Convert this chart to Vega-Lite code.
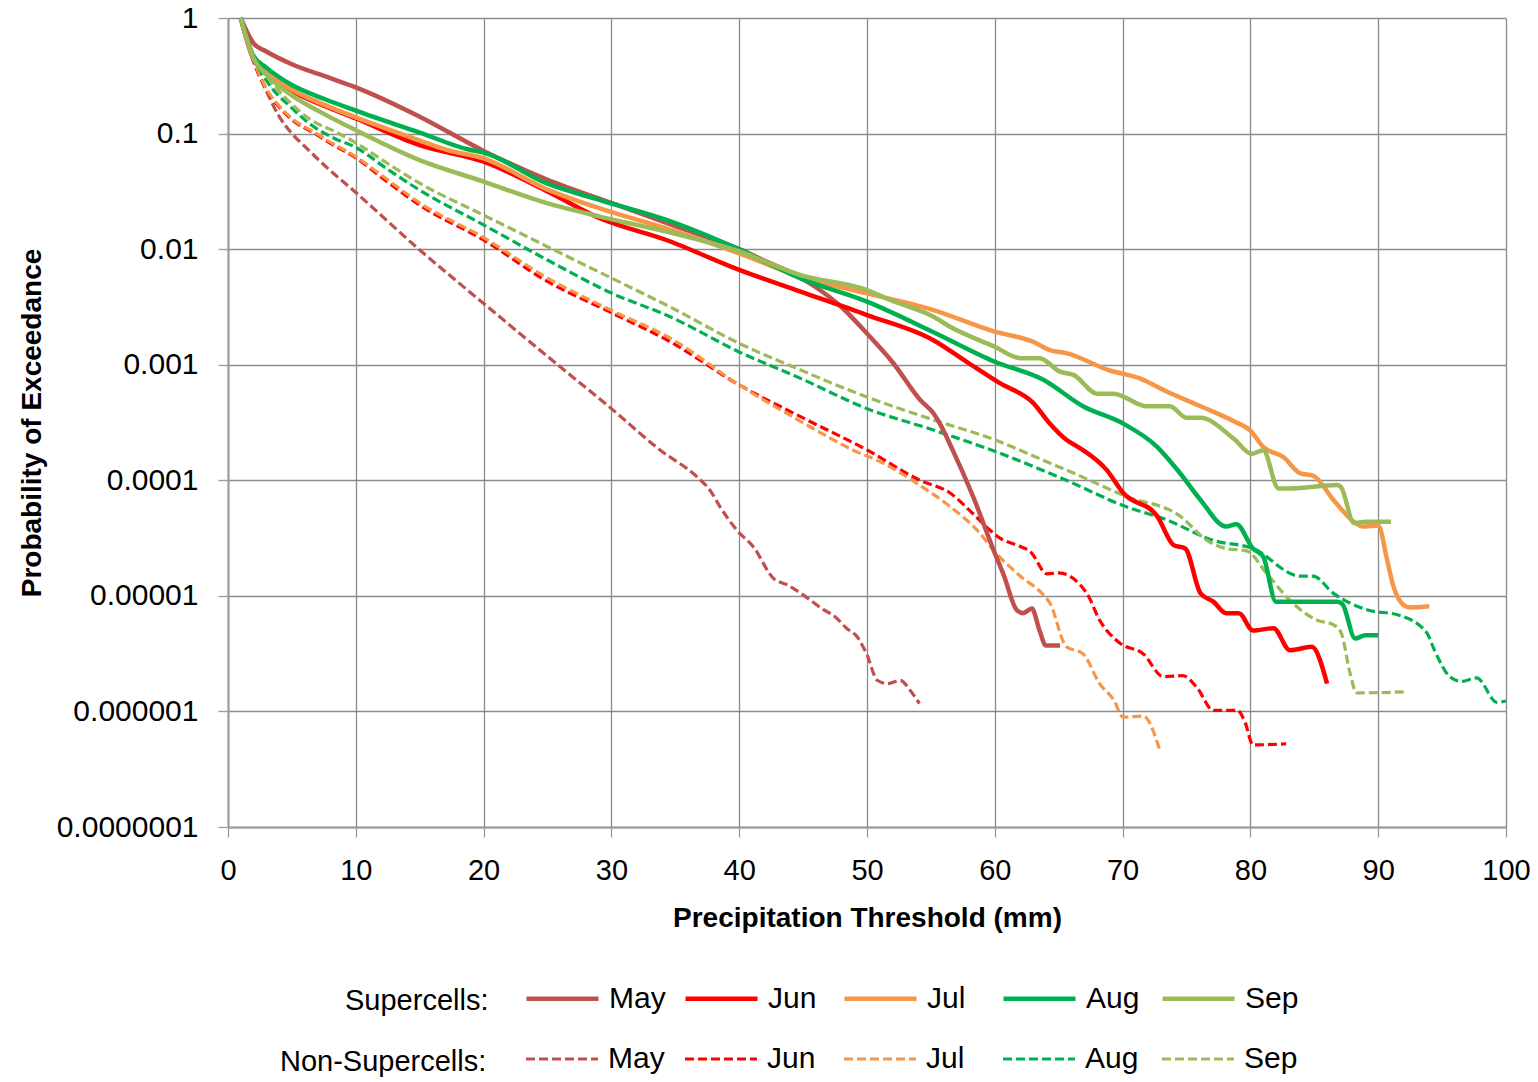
{
  "$schema": "https://vega.github.io/schema/vega-lite/v6.json",
  "width": 1278,
  "height": 809,
  "autosize": {"type": "none"},
  "padding": {"left": 228, "top": 18, "right": 32, "bottom": 255},
  "background": "white",
  "config": {"view": {"stroke": null}},
  "datasets": {
    "super": [
      {"m": "May", "x": 1, "p": 1}, {"m": "May", "x": 2, "p": 0.603}, {"m": "May", "x": 3, "p": 0.513}, {"m": "May", "x": 5, "p": 0.398}, {"m": "May", "x": 8, "p": 0.302}, {"m": "May", "x": 10, "p": 0.251}, {"m": "May", "x": 15, "p": 0.14}, {"m": "May", "x": 20, "p": 0.0708}, {"m": "May", "x": 25, "p": 0.0398}, {"m": "May", "x": 30, "p": 0.0251}, {"m": "May", "x": 35, "p": 0.0158}, {"m": "May", "x": 40, "p": 0.01}, {"m": "May", "x": 42, "p": 0.00794}, {"m": "May", "x": 44, "p": 0.00631}, {"m": "May", "x": 46, "p": 0.00468}, {"m": "May", "x": 48, "p": 0.00316}, {"m": "May", "x": 50, "p": 0.00186}, {"m": "May", "x": 52, "p": 0.00105}, {"m": "May", "x": 54.2, "p": 0.00049}, {"m": "May", "x": 55.2, "p": 0.00038}, {"m": "May", "x": 55.7, "p": 0.000309}, {"m": "May", "x": 56.75, "p": 0.000178}, {"m": "May", "x": 58.3, "p": 7.24e-5}, {"m": "May", "x": 60, "p": 2.34e-5}, {"m": "May", "x": 60.7, "p": 1.51e-5}, {"m": "May", "x": 61.7, "p": 7.59e-6}, {"m": "May", "x": 62.2, "p": 7.08e-6}, {"m": "May", "x": 62.9, "p": 7.76e-6}, {"m": "May", "x": 63.5, "p": 5.01e-6}, {"m": "May", "x": 64.0, "p": 3.72e-6}, {"m": "May", "x": 65.1, "p": 3.72e-6},
      {"m": "Jun", "x": 1, "p": 1}, {"m": "Jun", "x": 2, "p": 0.437}, {"m": "Jun", "x": 3, "p": 0.339}, {"m": "Jun", "x": 5, "p": 0.234}, {"m": "Jun", "x": 7.5, "p": 0.174}, {"m": "Jun", "x": 10, "p": 0.135}, {"m": "Jun", "x": 15, "p": 0.0794}, {"m": "Jun", "x": 20, "p": 0.0571}, {"m": "Jun", "x": 25, "p": 0.0316}, {"m": "Jun", "x": 29.1, "p": 0.0185}, {"m": "Jun", "x": 34.3, "p": 0.012}, {"m": "Jun", "x": 40, "p": 0.00661}, {"m": "Jun", "x": 44.8, "p": 0.00429}, {"m": "Jun", "x": 50, "p": 0.00269}, {"m": "Jun", "x": 55.2, "p": 0.00163}, {"m": "Jun", "x": 57.8, "p": 0.00106}, {"m": "Jun", "x": 60.4, "p": 0.000692}, {"m": "Jun", "x": 63, "p": 0.000468}, {"m": "Jun", "x": 64.3, "p": 0.00031}, {"m": "Jun", "x": 65.6, "p": 0.000224}, {"m": "Jun", "x": 66.5, "p": 0.000195}, {"m": "Jun", "x": 68.75, "p": 0.000123}, {"m": "Jun", "x": 70.05, "p": 7.76e-5}, {"m": "Jun", "x": 72.7, "p": 4.9e-5}, {"m": "Jun", "x": 74, "p": 2.75e-5}, {"m": "Jun", "x": 74.9, "p": 2.57e-5}, {"m": "Jun", "x": 76.1, "p": 1.05e-5}, {"m": "Jun", "x": 77.1, "p": 8.91e-6}, {"m": "Jun", "x": 78.1, "p": 7.08e-6}, {"m": "Jun", "x": 79.1, "p": 7.08e-6}, {"m": "Jun", "x": 80.2, "p": 5.01e-6}, {"m": "Jun", "x": 81.8, "p": 5.25e-6}, {"m": "Jun", "x": 83.1, "p": 3.39e-6}, {"m": "Jun", "x": 84.8, "p": 3.63e-6}, {"m": "Jun", "x": 86, "p": 1.74e-6},
      {"m": "Jul", "x": 1, "p": 1}, {"m": "Jul", "x": 2, "p": 0.447}, {"m": "Jul", "x": 3, "p": 0.347}, {"m": "Jul", "x": 5, "p": 0.24}, {"m": "Jul", "x": 7.5, "p": 0.178}, {"m": "Jul", "x": 10, "p": 0.138}, {"m": "Jul", "x": 15, "p": 0.0871}, {"m": "Jul", "x": 17.1, "p": 0.0724}, {"m": "Jul", "x": 20, "p": 0.0611}, {"m": "Jul", "x": 24.9, "p": 0.0331}, {"m": "Jul", "x": 29.1, "p": 0.0225}, {"m": "Jul", "x": 34.3, "p": 0.0151}, {"m": "Jul", "x": 40, "p": 0.0092}, {"m": "Jul", "x": 44.8, "p": 0.00578}, {"m": "Jul", "x": 50, "p": 0.00414}, {"m": "Jul", "x": 55.2, "p": 0.00297}, {"m": "Jul", "x": 60, "p": 0.00193}, {"m": "Jul", "x": 63, "p": 0.00158}, {"m": "Jul", "x": 64.3, "p": 0.00134}, {"m": "Jul", "x": 65.6, "p": 0.00126}, {"m": "Jul", "x": 69, "p": 0.000891}, {"m": "Jul", "x": 71.4, "p": 0.000759}, {"m": "Jul", "x": 73.4, "p": 0.000589}, {"m": "Jul", "x": 76.1, "p": 0.000437}, {"m": "Jul", "x": 78.7, "p": 0.000324}, {"m": "Jul", "x": 80, "p": 0.000269}, {"m": "Jul", "x": 81, "p": 0.000195}, {"m": "Jul", "x": 82.6, "p": 0.000158}, {"m": "Jul", "x": 83.9, "p": 0.000115}, {"m": "Jul", "x": 84.9, "p": 0.00011}, {"m": "Jul", "x": 86.5, "p": 6.76e-5}, {"m": "Jul", "x": 88.1, "p": 4.37e-5}, {"m": "Jul", "x": 88.8, "p": 3.98e-5}, {"m": "Jul", "x": 90, "p": 4.07e-5}, {"m": "Jul", "x": 90.7, "p": 2.04e-5}, {"m": "Jul", "x": 91.2, "p": 1.2e-5}, {"m": "Jul", "x": 92, "p": 8.32e-6}, {"m": "Jul", "x": 92.5, "p": 7.94e-6}, {"m": "Jul", "x": 94, "p": 8.13e-6},
      {"m": "Aug", "x": 1, "p": 1}, {"m": "Aug", "x": 2, "p": 0.468}, {"m": "Aug", "x": 3, "p": 0.372}, {"m": "Aug", "x": 5, "p": 0.263}, {"m": "Aug", "x": 7.5, "p": 0.2}, {"m": "Aug", "x": 10, "p": 0.158}, {"m": "Aug", "x": 15, "p": 0.102}, {"m": "Aug", "x": 18.9, "p": 0.0724}, {"m": "Aug", "x": 20, "p": 0.0684}, {"m": "Aug", "x": 24.9, "p": 0.0372}, {"m": "Aug", "x": 29.1, "p": 0.0266}, {"m": "Aug", "x": 34.3, "p": 0.0179}, {"m": "Aug", "x": 40, "p": 0.00995}, {"m": "Aug", "x": 44.8, "p": 0.00558}, {"m": "Aug", "x": 50, "p": 0.00351}, {"m": "Aug", "x": 55.2, "p": 0.00191}, {"m": "Aug", "x": 60, "p": 0.00106}, {"m": "Aug", "x": 63.8, "p": 0.000741}, {"m": "Aug", "x": 66.9, "p": 0.000437}, {"m": "Aug", "x": 70.05, "p": 0.000309}, {"m": "Aug", "x": 72.7, "p": 0.000195}, {"m": "Aug", "x": 74.5, "p": 0.000115}, {"m": "Aug", "x": 76.1, "p": 6.76e-5}, {"m": "Aug", "x": 78.1, "p": 3.98e-5}, {"m": "Aug", "x": 78.9, "p": 4.17e-5}, {"m": "Aug", "x": 80.2, "p": 2.57e-5}, {"m": "Aug", "x": 81, "p": 2.19e-5}, {"m": "Aug", "x": 82, "p": 8.91e-6}, {"m": "Aug", "x": 82.7, "p": 8.91e-6}, {"m": "Aug", "x": 86.8, "p": 8.91e-6}, {"m": "Aug", "x": 87.2, "p": 8.51e-6}, {"m": "Aug", "x": 88.2, "p": 4.27e-6}, {"m": "Aug", "x": 89, "p": 4.57e-6}, {"m": "Aug", "x": 90, "p": 4.57e-6},
      {"m": "Sep", "x": 1, "p": 1}, {"m": "Sep", "x": 2, "p": 0.447}, {"m": "Sep", "x": 3, "p": 0.324}, {"m": "Sep", "x": 5, "p": 0.214}, {"m": "Sep", "x": 7.5, "p": 0.148}, {"m": "Sep", "x": 10, "p": 0.107}, {"m": "Sep", "x": 15, "p": 0.0589}, {"m": "Sep", "x": 20, "p": 0.0384}, {"m": "Sep", "x": 24.9, "p": 0.0251}, {"m": "Sep", "x": 29.1, "p": 0.0191}, {"m": "Sep", "x": 34.3, "p": 0.0142}, {"m": "Sep", "x": 40, "p": 0.00955}, {"m": "Sep", "x": 44.8, "p": 0.00597}, {"m": "Sep", "x": 50, "p": 0.00443}, {"m": "Sep", "x": 51.8, "p": 0.00363}, {"m": "Sep", "x": 55.2, "p": 0.0026}, {"m": "Sep", "x": 56.5, "p": 0.00213}, {"m": "Sep", "x": 60, "p": 0.00143}, {"m": "Sep", "x": 62, "p": 0.00114}, {"m": "Sep", "x": 63.5, "p": 0.00114}, {"m": "Sep", "x": 65.1, "p": 0.000871}, {"m": "Sep", "x": 66.2, "p": 0.000813}, {"m": "Sep", "x": 68, "p": 0.000562}, {"m": "Sep", "x": 69.3, "p": 0.000562}, {"m": "Sep", "x": 71.9, "p": 0.000437}, {"m": "Sep", "x": 73.7, "p": 0.000437}, {"m": "Sep", "x": 75, "p": 0.000347}, {"m": "Sep", "x": 76.1, "p": 0.000347}, {"m": "Sep", "x": 78.7, "p": 0.000229}, {"m": "Sep", "x": 80.1, "p": 0.00017}, {"m": "Sep", "x": 81, "p": 0.000182}, {"m": "Sep", "x": 82.2, "p": 8.51e-5}, {"m": "Sep", "x": 83.1, "p": 8.51e-5}, {"m": "Sep", "x": 86.8, "p": 9.12e-5}, {"m": "Sep", "x": 87.1, "p": 8.71e-5}, {"m": "Sep", "x": 88.1, "p": 4.27e-5}, {"m": "Sep", "x": 89, "p": 4.37e-5}, {"m": "Sep", "x": 91, "p": 4.37e-5}
    ],
    "non": [
      {"m": "May", "x": 1, "p": 1}, {"m": "May", "x": 2, "p": 0.417}, {"m": "May", "x": 3, "p": 0.234}, {"m": "May", "x": 4, "p": 0.141}, {"m": "May", "x": 5, "p": 0.1}, {"m": "May", "x": 6, "p": 0.0776}, {"m": "May", "x": 7.5, "p": 0.0537}, {"m": "May", "x": 10, "p": 0.0309}, {"m": "May", "x": 15, "p": 0.00984}, {"m": "May", "x": 20, "p": 0.00339}, {"m": "May", "x": 25.7, "p": 0.00102}, {"m": "May", "x": 30, "p": 0.000417}, {"m": "May", "x": 33.8, "p": 0.000183}, {"m": "May", "x": 36.7, "p": 0.000107}, {"m": "May", "x": 37.7, "p": 8.24e-5}, {"m": "May", "x": 38.5, "p": 5.9e-5}, {"m": "May", "x": 39.8, "p": 3.72e-5}, {"m": "May", "x": 41.1, "p": 2.66e-5}, {"m": "May", "x": 42.7, "p": 1.41e-5}, {"m": "May", "x": 43.8, "p": 1.24e-5}, {"m": "May", "x": 45, "p": 1.02e-5}, {"m": "May", "x": 46.6, "p": 7.59e-6}, {"m": "May", "x": 47.5, "p": 6.61e-6}, {"m": "May", "x": 48.4, "p": 5.25e-6}, {"m": "May", "x": 49.2, "p": 4.47e-6}, {"m": "May", "x": 50, "p": 3.09e-6}, {"m": "May", "x": 50.8, "p": 1.86e-6}, {"m": "May", "x": 51.6, "p": 1.74e-6}, {"m": "May", "x": 52.6, "p": 1.86e-6}, {"m": "May", "x": 53.4, "p": 1.51e-6}, {"m": "May", "x": 54.1, "p": 1.17e-6},
      {"m": "Jun", "x": 1, "p": 1}, {"m": "Jun", "x": 2, "p": 0.437}, {"m": "Jun", "x": 3, "p": 0.24}, {"m": "Jun", "x": 4, "p": 0.17}, {"m": "Jun", "x": 5, "p": 0.132}, {"m": "Jun", "x": 6.8, "p": 0.1}, {"m": "Jun", "x": 7.8, "p": 0.0851}, {"m": "Jun", "x": 10, "p": 0.0617}, {"m": "Jun", "x": 12.5, "p": 0.038}, {"m": "Jun", "x": 15, "p": 0.024}, {"m": "Jun", "x": 20, "p": 0.012}, {"m": "Jun", "x": 25, "p": 0.00525}, {"m": "Jun", "x": 30, "p": 0.00282}, {"m": "Jun", "x": 34.6, "p": 0.00158}, {"m": "Jun", "x": 40, "p": 0.000668}, {"m": "Jun", "x": 44.8, "p": 0.000355}, {"m": "Jun", "x": 50, "p": 0.000183}, {"m": "Jun", "x": 54.15, "p": 0.0001}, {"m": "Jun", "x": 56.5, "p": 7.76e-5}, {"m": "Jun", "x": 58.3, "p": 5.13e-5}, {"m": "Jun", "x": 59.6, "p": 3.72e-5}, {"m": "Jun", "x": 60.4, "p": 3.16e-5}, {"m": "Jun", "x": 61.7, "p": 2.75e-5}, {"m": "Jun", "x": 62.8, "p": 2.4e-5}, {"m": "Jun", "x": 64.1, "p": 1.55e-5}, {"m": "Jun", "x": 65, "p": 1.58e-5}, {"m": "Jun", "x": 67.2, "p": 1.05e-5}, {"m": "Jun", "x": 68.2, "p": 6.17e-6}, {"m": "Jun", "x": 69.8, "p": 3.89e-6}, {"m": "Jun", "x": 71.6, "p": 3.16e-6}, {"m": "Jun", "x": 73.2, "p": 2.0e-6}, {"m": "Jun", "x": 74.7, "p": 2.04e-6}, {"m": "Jun", "x": 75.8, "p": 1.62e-6}, {"m": "Jun", "x": 77.1, "p": 1.02e-6}, {"m": "Jun", "x": 79, "p": 1.02e-6}, {"m": "Jun", "x": 79.6, "p": 7.94e-7}, {"m": "Jun", "x": 80.2, "p": 5.13e-7}, {"m": "Jun", "x": 82.8, "p": 5.25e-7},
      {"m": "Jul", "x": 1, "p": 1}, {"m": "Jul", "x": 2, "p": 0.437}, {"m": "Jul", "x": 3, "p": 0.245}, {"m": "Jul", "x": 4, "p": 0.174}, {"m": "Jul", "x": 5, "p": 0.135}, {"m": "Jul", "x": 6.8, "p": 0.102}, {"m": "Jul", "x": 7.8, "p": 0.0871}, {"m": "Jul", "x": 10, "p": 0.0631}, {"m": "Jul", "x": 12.5, "p": 0.0398}, {"m": "Jul", "x": 15, "p": 0.0251}, {"m": "Jul", "x": 20, "p": 0.0126}, {"m": "Jul", "x": 25, "p": 0.00562}, {"m": "Jul", "x": 30, "p": 0.00295}, {"m": "Jul", "x": 34.6, "p": 0.0017}, {"m": "Jul", "x": 40, "p": 0.000668}, {"m": "Jul", "x": 44.8, "p": 0.000324}, {"m": "Jul", "x": 48.9, "p": 0.000183}, {"m": "Jul", "x": 51.3, "p": 0.00014}, {"m": "Jul", "x": 53.9, "p": 9.42e-5}, {"m": "Jul", "x": 56.5, "p": 5.92e-5}, {"m": "Jul", "x": 58.6, "p": 3.72e-5}, {"m": "Jul", "x": 60.1, "p": 2.34e-5}, {"m": "Jul", "x": 62, "p": 1.48e-5}, {"m": "Jul", "x": 63.8, "p": 1.02e-5}, {"m": "Jul", "x": 64.3, "p": 8.71e-6}, {"m": "Jul", "x": 65.6, "p": 3.63e-6}, {"m": "Jul", "x": 66.9, "p": 3.16e-6}, {"m": "Jul", "x": 68.2, "p": 1.74e-6}, {"m": "Jul", "x": 69.3, "p": 1.26e-6}, {"m": "Jul", "x": 70.05, "p": 8.91e-7}, {"m": "Jul", "x": 71.6, "p": 9.12e-7}, {"m": "Jul", "x": 72.9, "p": 4.68e-7},
      {"m": "Aug", "x": 1, "p": 1}, {"m": "Aug", "x": 2, "p": 0.457}, {"m": "Aug", "x": 3, "p": 0.288}, {"m": "Aug", "x": 5, "p": 0.166}, {"m": "Aug", "x": 6.5, "p": 0.119}, {"m": "Aug", "x": 8.3, "p": 0.0912}, {"m": "Aug", "x": 10, "p": 0.0759}, {"m": "Aug", "x": 12.5, "p": 0.049}, {"m": "Aug", "x": 15, "p": 0.0324}, {"m": "Aug", "x": 20, "p": 0.0162}, {"m": "Aug", "x": 25, "p": 0.00805}, {"m": "Aug", "x": 30, "p": 0.00417}, {"m": "Aug", "x": 34.6, "p": 0.0026}, {"m": "Aug", "x": 40, "p": 0.00129}, {"m": "Aug", "x": 44.8, "p": 0.000762}, {"m": "Aug", "x": 50, "p": 0.000417}, {"m": "Aug", "x": 55.2, "p": 0.000272}, {"m": "Aug", "x": 60, "p": 0.000178}, {"m": "Aug", "x": 64.3, "p": 0.000115}, {"m": "Aug", "x": 65.6, "p": 0.0001}, {"m": "Aug", "x": 70.3, "p": 5.89e-5}, {"m": "Aug", "x": 73.4, "p": 4.57e-5}, {"m": "Aug", "x": 77.1, "p": 3.02e-5}, {"m": "Aug", "x": 80.2, "p": 2.57e-5}, {"m": "Aug", "x": 83.9, "p": 1.48e-5}, {"m": "Aug", "x": 84.9, "p": 1.48e-5}, {"m": "Aug", "x": 86.5, "p": 1.05e-5}, {"m": "Aug", "x": 89.1, "p": 7.59e-6}, {"m": "Aug", "x": 91.7, "p": 6.76e-6}, {"m": "Aug", "x": 93.8, "p": 4.79e-6}, {"m": "Aug", "x": 94.4, "p": 3.39e-6}, {"m": "Aug", "x": 95.6, "p": 2.0e-6}, {"m": "Aug", "x": 96.5, "p": 1.82e-6}, {"m": "Aug", "x": 97.7, "p": 1.95e-6}, {"m": "Aug", "x": 99.3, "p": 1.2e-6}, {"m": "Aug", "x": 100, "p": 1.23e-6},
      {"m": "Sep", "x": 1, "p": 1}, {"m": "Sep", "x": 2, "p": 0.468}, {"m": "Sep", "x": 3, "p": 0.316}, {"m": "Sep", "x": 4.4, "p": 0.209}, {"m": "Sep", "x": 6.5, "p": 0.131}, {"m": "Sep", "x": 8.3, "p": 0.105}, {"m": "Sep", "x": 10, "p": 0.0832}, {"m": "Sep", "x": 12.5, "p": 0.055}, {"m": "Sep", "x": 15, "p": 0.0372}, {"m": "Sep", "x": 20, "p": 0.0197}, {"m": "Sep", "x": 25, "p": 0.0105}, {"m": "Sep", "x": 30, "p": 0.00562}, {"m": "Sep", "x": 34.6, "p": 0.00316}, {"m": "Sep", "x": 40, "p": 0.00153}, {"m": "Sep", "x": 44.8, "p": 0.0009}, {"m": "Sep", "x": 50, "p": 0.000525}, {"m": "Sep", "x": 55.2, "p": 0.000333}, {"m": "Sep", "x": 60, "p": 0.000224}, {"m": "Sep", "x": 64.3, "p": 0.000141}, {"m": "Sep", "x": 65.6, "p": 0.000123}, {"m": "Sep", "x": 70.3, "p": 7.24e-5}, {"m": "Sep", "x": 74.5, "p": 4.9e-5}, {"m": "Sep", "x": 76.6, "p": 3.02e-5}, {"m": "Sep", "x": 78.1, "p": 2.57e-5}, {"m": "Sep", "x": 79.7, "p": 2.45e-5}, {"m": "Sep", "x": 81.3, "p": 1.55e-5}, {"m": "Sep", "x": 83.1, "p": 9.12e-6}, {"m": "Sep", "x": 85.2, "p": 6.17e-6}, {"m": "Sep", "x": 86.5, "p": 5.62e-6}, {"m": "Sep", "x": 87.1, "p": 4.79e-6}, {"m": "Sep", "x": 87.8, "p": 2.14e-6}, {"m": "Sep", "x": 88.3, "p": 1.45e-6}, {"m": "Sep", "x": 89.1, "p": 1.45e-6}, {"m": "Sep", "x": 92.1, "p": 1.48e-6}
    ]
  },
  "encoding": {
    "x": {
      "field": "x", "type": "quantitative",
      "scale": {"domain": [0, 100], "nice": false, "zero": false},
      "axis": {
        "title": "Precipitation Threshold (mm)",
        "values": [0, 10, 20, 30, 40, 50, 60, 70, 80, 90, 100],
        "grid": true, "gridColor": "#8c8c8c", "gridWidth": 1.3,
        "domainColor": "#9a9a9a", "domainWidth": 2,
        "tickColor": "#9a9a9a", "tickSize": 10, "tickWidth": 1.3,
        "labelFont": "Liberation Sans", "labelFontSize": 29, "labelColor": "#000000",
        "labelPadding": 19, "labelFlush": false, "labelOverlap": false,
        "titleFont": "Liberation Sans", "titleFontSize": 28, "titleFontWeight": "bold", "titleColor": "#000000",
        "titlePadding": 19
      }
    },
    "y": {
      "field": "p", "type": "quantitative",
      "scale": {"type": "log", "domain": [1e-7, 1], "nice": false, "clamp": true},
      "axis": {
        "title": "Probability of Exceedance",
        "values": [1, 0.1, 0.01, 0.001, 0.0001, 0.00001, 0.000001, 0.0000001],
        "format": ".7~f",
        "grid": true, "gridColor": "#8c8c8c", "gridWidth": 1.3,
        "domainColor": "#9a9a9a", "domainWidth": 2,
        "tickColor": "#9a9a9a", "tickSize": 10, "tickWidth": 1.3,
        "labelFont": "Liberation Sans", "labelFontSize": 30, "labelColor": "#000000",
        "labelPadding": 20, "labelFlush": false, "labelOverlap": false,
        "titleFont": "Liberation Sans", "titleFontSize": 28, "titleFontWeight": "bold", "titleColor": "#000000",
        "titlePadding": 10
      }
    }
  },
  "layer": [
    {
      "data": {"name": "non"},
      "mark": {"type": "line", "strokeWidth": 3.2, "strokeDash": [9, 4], "interpolate": "monotone"},
      "encoding": {
        "stroke": {
          "field": "m", "type": "nominal",
          "scale": {"domain": ["Sep", "Aug", "Jul", "Jun", "May"], "range": ["#9BBB59", "#00B050", "#F79646", "#FF0000", "#C0504D"]},
          "legend": {
            "values": ["May", "Jun", "Jul", "Aug", "Sep"],
            "orient": "none", "legendX": 52, "legendY": 1003, "direction": "horizontal", "columns": 5,
            "title": "Non-Supercells:", "titleOrient": "left", "titleAnchor": "middle", "titleBaseline": "top", "titleLimit": 400,
            "titleFont": "Liberation Sans", "titleFontSize": 29,
            "titleFontWeight": "normal", "titleColor": "#000000", "titlePadding": 37,
            "symbolType": "stroke", "symbolSize": 5184, "symbolStrokeWidth": 3.2, "symbolDash": [9, 4],
            "labelFont": "Liberation Sans", "labelFontSize": 30, "labelColor": "#000000", "labelOffset": 8,
            "columnPadding": 13, "gridAlign": "all", "padding": 0
          }
        }
      }
    },
    {
      "data": {"name": "super"},
      "mark": {"type": "line", "strokeWidth": 4.5, "interpolate": "monotone"},
      "encoding": {
        "color": {
          "field": "m", "type": "nominal",
          "scale": {"domain": ["May", "Jun", "Jul", "Aug", "Sep"], "range": ["#C0504D", "#FF0000", "#F79646", "#00B050", "#9BBB59"]},
          "legend": {
            "orient": "none", "legendX": 117, "legendY": 942, "direction": "horizontal", "columns": 5,
            "title": "Supercells:", "titleOrient": "left", "titleAnchor": "middle", "titleBaseline": "top", "titleLimit": 400,
            "titleFont": "Liberation Sans", "titleFontSize": 29,
            "titleFontWeight": "normal", "titleColor": "#000000", "titlePadding": 35,
            "symbolType": "stroke", "symbolSize": 5184, "symbolStrokeWidth": 4.5,
            "labelFont": "Liberation Sans", "labelFontSize": 30, "labelColor": "#000000", "labelOffset": 8,
            "columnPadding": 10, "gridAlign": "all", "padding": 0
          }
        }
      }
    }
  ]
}
